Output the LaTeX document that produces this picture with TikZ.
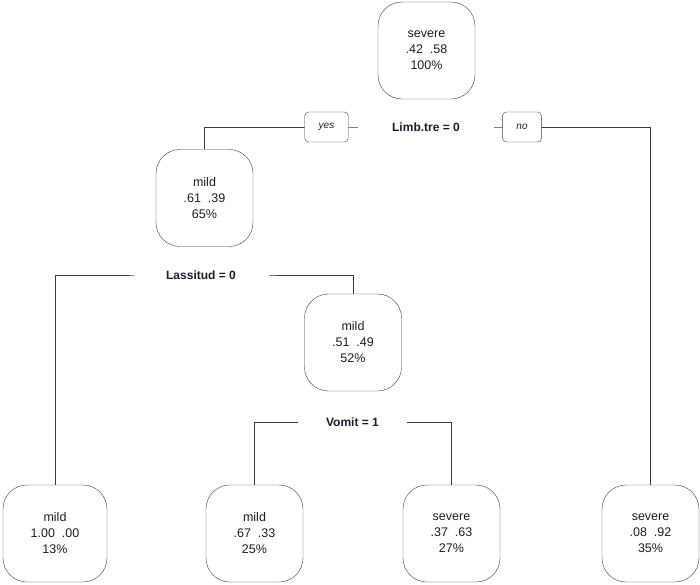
\documentclass[tikz,border=0pt]{standalone}
\usepackage{fontspec}
\setmainfont{Liberation Sans}
\usetikzlibrary{positioning,backgrounds}
\definecolor{txt}{RGB}{28,28,48}
\definecolor{edge}{RGB}{60,60,60}
\begin{document}
\begin{tikzpicture}[x=1pt,y=-1pt,
leaf/.style={draw=edge,fill=white,rounded corners=24pt,align=center,minimum width=97pt,minimum height=97pt,text=txt,font=\fontsize{12.5}{16}\selectfont},
split/.style={fill=white,inner sep=0pt,minimum height=12pt,text=txt,font=\fontsize{12}{14}\selectfont\bfseries},
tag/.style={draw=edge,fill=white,rounded corners=4pt,inner xsep=14pt,minimum height=30pt,text=txt,font=\fontsize{10}{12}\selectfont\itshape},
link/.style={draw=edge,line width=0.8pt}]
\useasboundingbox (0,0) rectangle (700,584);
\node[leaf] (root) at (426.5,50.5) {severe\\.42\ \ .58\\100\%};
\node[split,minimum width=136pt] (splitA) at (426,127) {Limb.tre = 0};
\node[tag] (yes) at (326.5,127) {yes};
\node[tag] (no) at (522,127) {no};
\node[leaf] (nodeL) at (204.5,198) {mild\\.61\ \ .39\\65\%};
\node[split,minimum width=135pt] (splitB) at (201,275) {Lassitud = 0};
\node[leaf] (nodeM) at (353,342.5) {mild\\.51\ \ .49\\52\%};
\node[split,minimum width=109pt] (splitC) at (352.5,422) {Vomit = 1};
\node[leaf,minimum width=104pt] (leafA) at (55,533.5) {mild\\1.00\ \ .00\\13\%};
\node[leaf] (leafB) at (254.5,533.5) {mild\\.67\ \ .33\\25\%};
\node[leaf] (leafC) at (451.5,533.5) {severe\\.37\ \ .63\\27\%};
\node[leaf] (leafD) at (650.5,533.5) {severe\\.08\ \ .92\\35\%};
\begin{scope}[on background layer]
\fill[white] (0,0) rectangle (700,584);
\draw[link] (nodeL.north) |- (splitA.center) -| (leafD.north);
\draw[link] (leafA.north) |- (splitB.center) -| (nodeM.north);
\draw[link] (leafB.north) |- (splitC.center) -| (leafC.north);
\end{scope}
\end{tikzpicture}
\end{document}
